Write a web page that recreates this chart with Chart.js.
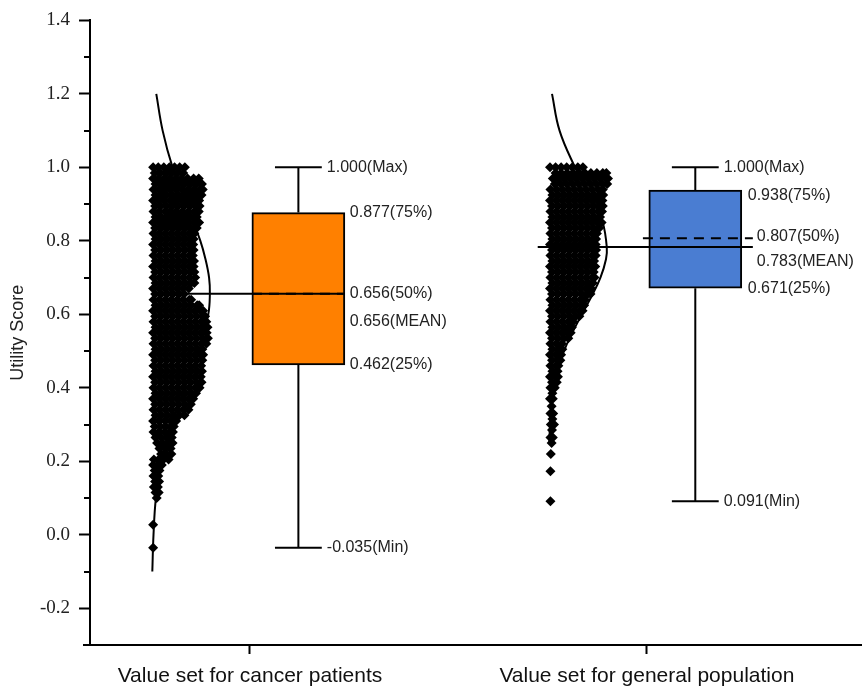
<!DOCTYPE html>
<html>
<head>
<meta charset="utf-8">
<script src="https://cdn.jsdelivr.net/npm/chart.js@4.4.1/dist/chart.umd.min.js"></script>
<style>
  html, body { margin: 0; padding: 0; background: #fff; }
  #wrap { width: 862px; height: 691px; }
</style>
</head>
<body>
<div id="wrap"><canvas id="utilityChart" width="862" height="691"></canvas></div>
<script>
// Groups and box plot statistics
const groups = ["Value set for cancer patients", "Value set for general population"];
const groupPos = [1, 2];
const minVals = [-0.035, 0.091];
const q1Vals = [0.462, 0.671];
const medianVals = [0.656, 0.807];
const meanVals = [0.656, 0.783];
const q3Vals = [0.877, 0.938];
const maxVals = [1.0, 1.0];

// Y axis ticks
const yTicks = [-0.2, 0, 0.2, 0.4, 0.6, 0.8, 1.0, 1.2, 1.4];
const yMinorTicks = [-0.1, 0.1, 0.3, 0.5, 0.7, 0.9, 1.1, 1.3];

// Respondents: each row is [utility, jittered x, jittered x, ...]
const cancerPoints = [
  [1.000, .756, .769, .783, .797, .810, .823, .836],
  [0.985, .760, .774, .789, .803, .818, .832],
  [0.970, .756, .770, .784, .798, .813, .828, .843, .858, .871],
  [0.955, .762, .777, .791, .806, .820, .835, .850, .865, .879],
  [0.940, .757, .771, .785, .799, .814, .829, .844, .859, .874, .881],
  [0.925, .762, .776, .790, .805, .820, .836, .851, .866, .878],
  [0.910, .756, .770, .784, .799, .813, .828, .843, .858, .872],
  [0.895, .761, .775, .790, .805, .819, .834, .849, .864, .873],
  [0.880, .757, .771, .786, .800, .815, .830, .845, .860, .871],
  [0.865, .762, .776, .791, .806, .821, .836, .851, .866],
  [0.850, .756, .770, .785, .800, .815, .830, .845, .860, .872],
  [0.835, .761, .776, .791, .806, .821, .836, .851, .866],
  [0.820, .757, .771, .786, .801, .816, .831, .846, .860],
  [0.805, .762, .777, .792, .807, .822, .837, .851, .858],
  [0.790, .756, .771, .786, .801, .816, .831, .846, .857],
  [0.775, .761, .776, .791, .806, .821, .836, .850, .858],
  [0.760, .757, .772, .787, .802, .817, .832, .847, .856],
  [0.745, .762, .777, .792, .807, .822, .837, .851, .859],
  [0.730, .756, .771, .786, .801, .816, .831, .846, .858],
  [0.715, .761, .776, .791, .806, .821, .836, .851, .860],
  [0.700, .757, .772, .787, .802, .817, .832, .847, .862],
  [0.685, .762, .777, .792, .807, .822, .837, .852, .860],
  [0.670, .756, .771, .786, .801, .816, .831, .846],
  [0.655, .761, .776, .791, .806, .821, .834],
  [0.640, .757, .772, .787, .802, .817, .832, .847, .852],
  [0.625, .762, .777, .792, .807, .822, .837, .852, .867, .872],
  [0.610, .756, .771, .786, .801, .816, .831, .846, .861, .876, .882],
  [0.595, .761, .776, .791, .806, .821, .836, .851, .866, .881, .887],
  [0.580, .757, .772, .787, .802, .817, .832, .847, .862, .877, .890],
  [0.565, .762, .777, .792, .807, .822, .837, .852, .867, .882, .893],
  [0.550, .756, .771, .786, .801, .816, .831, .846, .861, .876, .891],
  [0.535, .761, .776, .791, .806, .821, .836, .851, .866, .881, .894],
  [0.520, .757, .772, .787, .802, .817, .832, .847, .862, .877, .890],
  [0.505, .762, .777, .792, .807, .822, .837, .852, .867, .880],
  [0.490, .756, .771, .786, .801, .816, .831, .846, .861, .876, .882],
  [0.475, .761, .776, .791, .806, .821, .836, .851, .866, .880],
  [0.460, .757, .772, .787, .802, .817, .832, .847, .862, .877],
  [0.445, .762, .777, .792, .807, .822, .837, .852, .867, .879],
  [0.430, .756, .771, .786, .801, .816, .831, .846, .861, .876],
  [0.415, .761, .776, .791, .806, .821, .836, .851, .866, .878],
  [0.400, .757, .772, .787, .802, .817, .832, .847, .862, .873],
  [0.385, .762, .777, .792, .807, .822, .837, .852, .864],
  [0.370, .756, .771, .786, .801, .816, .831, .846, .857],
  [0.355, .761, .776, .791, .806, .821, .836, .851],
  [0.340, .757, .772, .787, .802, .817, .832, .845],
  [0.325, .762, .777, .792, .807, .822, .835],
  [0.310, .756, .771, .786, .800, .814],
  [0.295, .760, .774, .788, .801, .808],
  [0.280, .757, .771, .785, .798, .806],
  [0.265, .762, .776, .790, .803],
  [0.250, .766, .780, .794, .805],
  [0.235, .772, .786, .800],
  [0.220, .776, .790, .802],
  [0.205, .758, .770, .782, .795],
  [0.190, .756, .768, .778],
  [0.175, .760, .772],
  [0.160, .757, .769],
  [0.145, .761, .771],
  [0.130, .758, .768],
  [0.115, .762, .770],
  [0.100, .765],
  [0.027, .756],
  [-0.035, .756]
];

const generalPoints = [
  [1.000, 1.756, 1.770, 1.784, 1.798, 1.812, 1.826, 1.839],
  [0.985, 1.770, 1.784, 1.799, 1.814, 1.829, 1.844, 1.859, 1.874, 1.889, 1.898],
  [0.970, 1.763, 1.777, 1.792, 1.807, 1.822, 1.837, 1.852, 1.867, 1.882, 1.897, 1.902],
  [0.955, 1.768, 1.783, 1.798, 1.813, 1.828, 1.843, 1.858, 1.873, 1.888, 1.900],
  [0.940, 1.757, 1.772, 1.787, 1.802, 1.817, 1.832, 1.847, 1.862, 1.877, 1.889],
  [0.925, 1.762, 1.777, 1.792, 1.807, 1.822, 1.837, 1.852, 1.867, 1.882, 1.890],
  [0.910, 1.756, 1.771, 1.786, 1.801, 1.816, 1.831, 1.846, 1.861, 1.876, 1.888],
  [0.895, 1.761, 1.776, 1.791, 1.806, 1.821, 1.836, 1.851, 1.866, 1.881, 1.889],
  [0.880, 1.757, 1.772, 1.787, 1.802, 1.817, 1.832, 1.847, 1.862, 1.877, 1.887],
  [0.865, 1.762, 1.777, 1.792, 1.807, 1.822, 1.837, 1.852, 1.867, 1.882],
  [0.850, 1.756, 1.771, 1.786, 1.801, 1.816, 1.831, 1.846, 1.861, 1.876, 1.886],
  [0.835, 1.761, 1.776, 1.791, 1.806, 1.821, 1.836, 1.851, 1.866, 1.880],
  [0.820, 1.757, 1.772, 1.787, 1.802, 1.817, 1.832, 1.847, 1.862, 1.874],
  [0.805, 1.762, 1.777, 1.792, 1.807, 1.822, 1.837, 1.852, 1.867, 1.872],
  [0.790, 1.756, 1.771, 1.786, 1.801, 1.816, 1.831, 1.846, 1.861, 1.871],
  [0.775, 1.761, 1.776, 1.791, 1.806, 1.821, 1.836, 1.851, 1.866, 1.872],
  [0.760, 1.757, 1.772, 1.787, 1.802, 1.817, 1.832, 1.847, 1.862, 1.871],
  [0.745, 1.762, 1.777, 1.792, 1.807, 1.822, 1.837, 1.852, 1.867],
  [0.730, 1.756, 1.771, 1.786, 1.801, 1.816, 1.831, 1.846, 1.861, 1.870],
  [0.715, 1.761, 1.776, 1.791, 1.806, 1.821, 1.836, 1.851, 1.866],
  [0.700, 1.757, 1.772, 1.787, 1.802, 1.817, 1.832, 1.847, 1.862, 1.868],
  [0.685, 1.762, 1.777, 1.792, 1.807, 1.822, 1.837, 1.852, 1.864],
  [0.670, 1.756, 1.771, 1.786, 1.801, 1.816, 1.831, 1.846, 1.860],
  [0.655, 1.761, 1.776, 1.791, 1.806, 1.821, 1.836, 1.851, 1.858],
  [0.640, 1.757, 1.772, 1.787, 1.802, 1.817, 1.832, 1.844],
  [0.625, 1.762, 1.777, 1.792, 1.807, 1.822, 1.837, 1.842],
  [0.610, 1.756, 1.771, 1.786, 1.801, 1.816, 1.831, 1.838],
  [0.595, 1.761, 1.776, 1.791, 1.806, 1.821, 1.830],
  [0.580, 1.757, 1.772, 1.787, 1.802, 1.814],
  [0.565, 1.762, 1.777, 1.792, 1.806, 1.811],
  [0.550, 1.756, 1.771, 1.786, 1.800, 1.808],
  [0.535, 1.761, 1.776, 1.791, 1.802],
  [0.520, 1.757, 1.772, 1.786],
  [0.505, 1.762, 1.777, 1.787],
  [0.490, 1.756, 1.771, 1.784],
  [0.475, 1.761, 1.775, 1.782],
  [0.460, 1.757, 1.771, 1.777],
  [0.445, 1.762, 1.775],
  [0.430, 1.756, 1.770, 1.776],
  [0.415, 1.761, 1.773],
  [0.400, 1.757, 1.768],
  [0.385, 1.762],
  [0.370, 1.756, 1.763],
  [0.350, 1.760],
  [0.330, 1.757, 1.764],
  [0.315, 1.762],
  [0.300, 1.758, 1.766],
  [0.285, 1.761],
  [0.265, 1.757, 1.763],
  [0.250, 1.760],
  [0.220, 1.758],
  [0.173, 1.757],
  [0.091, 1.757]
];

// Normal density curves drawn beside each cloud (utility, x)
const cancerCurveY = [1.2, 1.1, 1.0, 0.9, 0.8, 0.75, 0.7, 0.656, 0.6, 0.5, 0.4, 0.3, 0.2, 0.1, 0.0, -0.1];
const cancerCurveX = [0.764, 0.780, 0.805, 0.840, 0.875, 0.888, 0.897, 0.899, 0.895, 0.872, 0.836, 0.802, 0.777, 0.763, 0.757, 0.754];
const generalCurveY = [1.2, 1.1, 1.0, 0.95, 0.9, 0.85, 0.783, 0.75, 0.7, 0.65, 0.6, 0.55, 0.5, 0.45, 0.4, 0.35, 0.3, 0.25];
const generalCurveX = [1.761, 1.780, 1.819, 1.844, 1.869, 1.889, 1.899, 1.897, 1.883, 1.861, 1.836, 1.812, 1.791, 1.776, 1.765, 1.759, 1.756, 1.754];

// layout of the boxes, relative to each group position
const geo = {
  boxOffset: 0.122,
  boxHalf: 0.117,
  capHalf: 0.059,
  meanStart: [-0.159, -0.275],
  meanEnd: [0.239, 0.267],
  medianStart: [0.005, -0.01],
  medianEnd: [0.239, 0.267]
};
const boxColors = ["#FF8000", "#4A7DD2"];

const toXY = (rows) => rows.flatMap((r) => r.slice(1).map((x) => ({ x: x, y: r[0] })));
const zip = (xs, ys) => xs.map((x, i) => ({ x: x, y: ys[i] }));

function seg(x1, y1, x2, y2, extra) {
  return Object.assign({
    type: "scatter",
    showLine: true,
    data: [{ x: x1, y: y1 }, { x: x2, y: y2 }],
    borderColor: "#000",
    borderWidth: 2,
    pointRadius: 0,
    order: 0
  }, extra || {});
}

const datasets = [];
groupPos.forEach((pos, i) => {
  const c = pos + geo.boxOffset;
  datasets.push(seg(c, q3Vals[i], c, maxVals[i]));
  datasets.push(seg(c, minVals[i], c, q1Vals[i]));
  datasets.push(seg(c - geo.capHalf, maxVals[i], c + geo.capHalf, maxVals[i]));
  datasets.push(seg(c - geo.capHalf, minVals[i], c + geo.capHalf, minVals[i]));
  datasets.push(seg(pos + geo.medianStart[i], medianVals[i], pos + geo.medianEnd[i], medianVals[i], { borderDash: [10, 7] }));
  datasets.push(seg(pos + geo.meanStart[i], meanVals[i], pos + geo.meanEnd[i], meanVals[i]));
});

// density curves
[[cancerCurveX, cancerCurveY], [generalCurveX, generalCurveY]].forEach(([xs, ys]) => {
  datasets.push({
    type: "scatter",
    showLine: true,
    data: zip(xs, ys),
    borderColor: "#000",
    borderWidth: 2,
    tension: 0.4,
    pointRadius: 0,
    order: 0
  });
});

// boxes (floating bars)
datasets.push({
  type: "bar",
  data: groupPos.map((pos, i) => ({ x: pos + geo.boxOffset, y: [q1Vals[i], q3Vals[i]] })),
  backgroundColor: boxColors,
  borderColor: "#000",
  borderWidth: 2,
  borderSkipped: false,
  barThickness: 93,
  order: 1
});

// respondent clouds
[cancerPoints, generalPoints].forEach((rows) => {
  datasets.push({
    type: "scatter",
    data: toXY(rows),
    pointStyle: "rectRot",
    pointRadius: 5,
    pointBackgroundColor: "#000",
    pointBorderWidth: 0,
    order: 2
  });
});

// text next to the boxes
const boxLabels = {
  id: "boxLabels",
  afterDatasetsDraw(chart) {
    const { ctx, scales: { x, y } } = chart;
    ctx.save();
    ctx.font = '16px "Liberation Sans", Arial, sans-serif';
    ctx.fillStyle = "#222";
    ctx.textBaseline = "middle";
    ctx.textAlign = "left";
    const shifts = [
      { q3: 0, med: 0, mean: 28, q3x: 5, medx: 5 },
      { q3: 5, med: -2, mean: 15, q3x: 6, medx: 4 }
    ];
    groupPos.forEach((pos, i) => {
      const c = pos + geo.boxOffset;
      const s = shifts[i];
      const capX = x.getPixelForValue(c + geo.capHalf) + 5;
      const boxX = x.getPixelForValue(c + geo.boxHalf) + s.q3x;
      const lineX = i === 0 ? boxX : x.getPixelForValue(pos + geo.meanEnd[i]) + s.medx;
      const put = (txt, px, val, dy) => ctx.fillText(txt, px, y.getPixelForValue(val) + dy);
      put(maxVals[i].toFixed(3) + "(Max)", capX, maxVals[i], 0);
      put(q3Vals[i].toFixed(3) + "(75%)", boxX, q3Vals[i], s.q3);
      put(medianVals[i].toFixed(3) + "(50%)", lineX, medianVals[i], s.med);
      put(meanVals[i].toFixed(3) + "(MEAN)", lineX, meanVals[i], s.mean);
      put(q1Vals[i].toFixed(3) + "(25%)", boxX, q1Vals[i], 0);
      put(minVals[i].toFixed(3) + "(Min)", capX, minVals[i], 0);
    });
    ctx.restore();
  },
  afterDraw(chart) {
    // minor ticks on the y axis
    const { ctx, chartArea, scales: { y } } = chart;
    ctx.save();
    ctx.strokeStyle = "#000";
    ctx.lineWidth = 2;
    ctx.beginPath();
    yMinorTicks.forEach((v) => {
      const py = Math.round(y.getPixelForValue(v));
      ctx.moveTo(chartArea.left - 6, py);
      ctx.lineTo(chartArea.left, py);
    });
    ctx.moveTo(chartArea.left - 7, chartArea.bottom);
    ctx.lineTo(chartArea.left, chartArea.bottom);
    ctx.stroke();
    ctx.restore();
  }
};

Chart.defaults.font.family = '"Liberation Sans", Arial, sans-serif';
Chart.defaults.color = "#222";

new Chart(document.getElementById("utilityChart"), {
  type: "scatter",
  data: { datasets: datasets },
  options: {
    responsive: false,
    devicePixelRatio: 1,
    animation: false,
    events: [],
    layout: { autoPadding: false, padding: { top: 17, left: 0, right: 0, bottom: 0 } },
    plugins: {
      legend: { display: false },
      tooltip: { enabled: false }
    },
    scales: {
      x: {
        type: "linear",
        min: 0.597,
        max: 2.542,
        offset: false,
        afterBuildTicks: (scale) => { scale.ticks = groupPos.map((v) => ({ value: v })); },
        afterFit: (scale) => { scale.height = 46; },
        grid: { offset: false, drawOnChartArea: false, tickLength: 9, tickWidth: 2, tickColor: "#000" },
        border: { color: "#000", width: 2 },
        ticks: {
          padding: 10,
          autoSkip: false,
          maxRotation: 0,
          color: "#111",
          font: { size: 21 },
          callback: (v) => groups[groupPos.indexOf(v)]
        }
      },
      y: {
        type: "linear",
        min: -0.3,
        max: 1.4,
        afterBuildTicks: (scale) => { scale.ticks = yTicks.map((v) => ({ value: v })); },
        afterFit: (scale) => { scale.width = 90; },
        grid: { drawOnChartArea: false, tickLength: 11, tickWidth: 2, tickColor: "#000" },
        border: { color: "#000", width: 2 },
        title: {
          display: true,
          text: "Utility Score",
          color: "#222",
          font: { size: 18 },
          padding: { top: 7, bottom: 0 }
        },
        ticks: {
          padding: 9,
          color: "#222",
          font: { family: '"Liberation Serif", "Times New Roman", serif', size: 19 },
          callback: (v) => v.toFixed(1)
        }
      }
    }
  },
  plugins: [boxLabels]
});
</script>
</body>
</html>
